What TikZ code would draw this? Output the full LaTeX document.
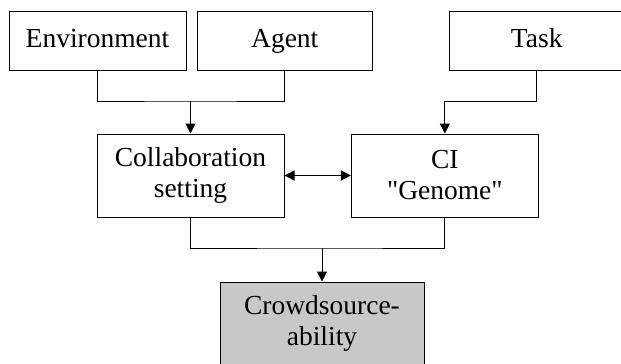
\documentclass[tikz,border=0pt]{standalone}
\usepackage{fontspec}
\setmainfont{Liberation Serif}[Ligatures=TeXOff]
\usetikzlibrary{arrows.meta}

\begin{document}
\begin{tikzpicture}[x=1pt,y=-1pt]
    \tikzset{box/.style={draw, line width=1pt, minimum width=176pt, minimum height=59pt,
            align=center, inner sep=0pt, font=\fontsize{27.5}{31}\selectfont},
        toprow/.style={box, text height=19pt, text depth=6pt},
        tallbox/.style={box, minimum width=187pt, minimum height=83pt},
        link/.style={line width=1pt},
        ->-/.style={link, -{Triangle[length=10pt,width=10pt]}},
        -<>-/.style={line width=1.6pt, {Triangle[length=10pt,width=10pt]}-{Triangle[length=10pt,width=10pt]}}}
    \useasboundingbox (0,0) rectangle (621,364);

    % top row
    \node[toprow, minimum width=177pt] (env) at (97.5,40.5) {Environment};
    \node[toprow, minimum width=175.5pt] (agent) at (284.75,40.5) {Agent};
    \node[toprow, minimum width=175.5pt] (task) at (536.75,40.5) {Task};

    % middle row
    \node[tallbox] (collab) at (190.5,175.5) {Collaboration\\setting};
    \node[tallbox] (ci) at (444.85,175.5) {CI\\"Genome"};

    % result
    \node[tallbox, minimum width=204pt, fill={rgb,255:red,200;green,200;blue,200}] (crowd) at (322,323.5) {Crowdsource-\\ability};

    \coordinate (topjoin) at (collab.north |- 0,101);
    \coordinate (basejoin) at (crowd.north |- 0,248);

    \draw[link] (env.south) |- (topjoin) -| (agent.south);
    \draw[->-] (topjoin) -- (collab.north);
    \draw[->-] (task.south) |- (ci.north |- topjoin) -- (ci.north);
    \draw[-<>-] (collab.east) -- (ci.west);
    \draw[link] (collab.south) |- (basejoin) -| (ci.south);
    \draw[->-] (basejoin) -- (crowd.north);
\end{tikzpicture}
\end{document}
